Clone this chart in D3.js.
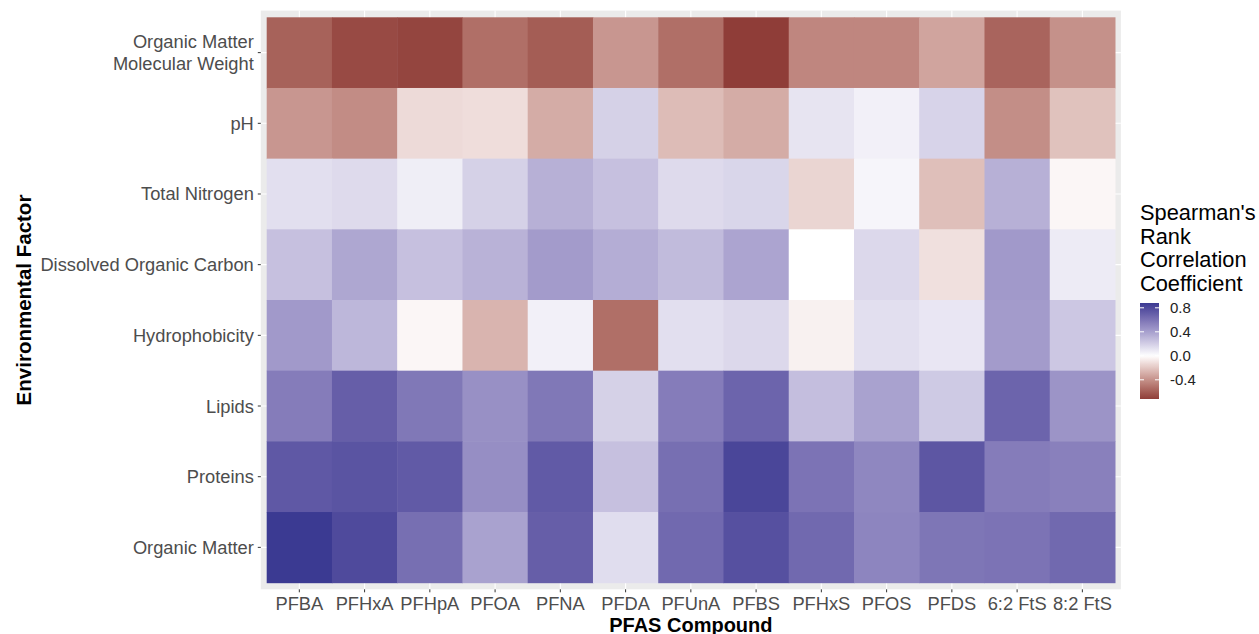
<!DOCTYPE html>
<html>
<head>
<meta charset="utf-8">
<script src="https://cdn.jsdelivr.net/npm/d3@7"></script>
<style>
  html, body { margin: 0; padding: 0; background: #ffffff; }
  svg { display: block; font-family: "Liberation Sans", Arial, sans-serif; }
</style>
</head>
<body>
<svg id="chart" width="1259" height="634"></svg>
<script>
// ---- Data ----
const compounds = ["PFBA", "PFHxA", "PFHpA", "PFOA", "PFNA", "PFDA", "PFUnA", "PFBS", "PFHxS", "PFOS", "PFDS", "6:2 FtS", "8:2 FtS"];
const factors = ["Organic Matter Molecular Weight", "pH", "Total Nitrogen", "Dissolved Organic Carbon", "Hydrophobicity", "Lipids", "Proteins", "Organic Matter"];
const omMolecularWeight = [-0.58, -0.67, -0.69, -0.53, -0.60, -0.38, -0.53, -0.72, -0.44, -0.44, -0.33, -0.57, -0.40];
const pH = [-0.38, -0.42, -0.13, -0.12, -0.30, 0.19, -0.24, -0.30, 0.11, 0.06, 0.18, -0.41, -0.22];
const totalNitrogen = [0.13, 0.15, 0.07, 0.19, 0.33, 0.26, 0.15, 0.17, -0.15, 0.04, -0.23, 0.33, -0.03];
const dissolvedOrganicCarbon = [0.26, 0.37, 0.26, 0.32, 0.42, 0.34, 0.28, 0.38, 0.00, 0.16, -0.11, 0.43, 0.08];
const hydrophobicity = [0.43, 0.30, -0.03, -0.27, 0.06, -0.53, 0.13, 0.16, -0.05, 0.13, 0.10, 0.42, 0.23];
const lipids = [0.56, 0.70, 0.58, 0.47, 0.58, 0.19, 0.56, 0.67, 0.27, 0.39, 0.22, 0.67, 0.45];
const proteins = [0.73, 0.75, 0.72, 0.48, 0.72, 0.26, 0.62, 0.82, 0.60, 0.51, 0.74, 0.56, 0.54];
const organicMatter = [0.88, 0.80, 0.62, 0.39, 0.70, 0.14, 0.65, 0.77, 0.65, 0.52, 0.59, 0.60, 0.65];
const legendTicks = [-0.4, 0.0, 0.4, 0.8];
const legendTitle = ["Spearman's", "Rank", "Correlation", "Coefficient"];

const rows = [omMolecularWeight, pH, totalNitrogen, dissolvedOrganicCarbon, hydrophobicity, lipids, proteins, organicMatter];
const cells = [];
factors.forEach((f, i) => compounds.forEach((c, j) => cells.push({ factor: f, compound: c, value: rows[i][j] })));

// ---- Layout ----
const svg = d3.select("#chart");
const tileLeft = 266.7, tileRight = 1115, tileTop = 17.3, tileBottom = 582.7;
const pad = 5.9;

const x = d3.scaleBand().domain(compounds).range([tileLeft, tileRight]).padding(0);
const y = d3.scaleBand().domain(factors).range([tileTop, tileBottom]).padding(0);

const vmin = d3.min(cells, d => d.value), vmax = d3.max(cells, d => d.value);
const color = d3.scaleLinear()
  .domain([vmin, 0, vmax])
  .range(["#8f3d38", "#ffffff", "#3b3a92"])
  .interpolate(d3.interpolateLab);

// Panel background
svg.append("rect")
  .attr("x", tileLeft - pad).attr("y", tileTop - pad - 0.8)
  .attr("width", tileRight - tileLeft + 2 * pad)
  .attr("height", tileBottom - tileTop + 2 * pad + 1.5)
  .attr("fill", "#ebebeb");

// Grid lines
const grid = svg.append("g").attr("stroke", "#ffffff").attr("stroke-width", 1.1);
compounds.forEach(c => {
  const cx = x(c) + x.bandwidth() / 2;
  grid.append("line").attr("x1", cx).attr("x2", cx).attr("y1", tileTop - pad - 0.8).attr("y2", tileBottom + pad + 0.7);
});
factors.forEach(f => {
  const cy = y(f) + y.bandwidth() / 2;
  grid.append("line").attr("y1", cy).attr("y2", cy).attr("x1", tileLeft - pad).attr("x2", tileRight + pad);
});

// Tiles
svg.append("g").selectAll("rect").data(cells).join("rect")
  .attr("x", d => x(d.compound))
  .attr("y", d => y(d.factor))
  .attr("width", x.bandwidth() + 0.5)
  .attr("height", y.bandwidth() + 0.5)
  .attr("fill", d => color(d.value));

// X axis
const xAxis = d3.axisBottom(x).tickSize(3).tickPadding(3.5);
const gx = svg.append("g").attr("transform", `translate(0,${tileBottom + pad + 0.7})`).call(xAxis);
gx.select(".domain").remove();
gx.selectAll(".tick line").attr("stroke", "#333333");
gx.selectAll(".tick text").attr("fill", "#4d4d4d").attr("font-size", 18.3)
  .attr("font-family", "Liberation Sans, Arial, sans-serif").attr("dy", "0.75em");

// Y axis
const yAxis = d3.axisLeft(y).tickSize(3).tickPadding(4);
const gy = svg.append("g").attr("transform", `translate(${tileLeft - pad},0)`).call(yAxis);
gy.select(".domain").remove();
gy.selectAll(".tick line").attr("stroke", "#333333");
gy.selectAll(".tick text").each(function(d) {
  const t = d3.select(this);
  t.text(null).attr("fill", "#4d4d4d").attr("font-size", 18.3)
    .attr("font-family", "Liberation Sans, Arial, sans-serif").attr("dy", null);
  const lines = d === "Organic Matter Molecular Weight" ? ["Organic Matter", "Molecular Weight"] : [d];
  const lh = 22;
  const start = -((lines.length - 1) * lh) / 2 + 6.5;
  lines.forEach((ln, k) => {
    t.append("tspan").attr("x", -7).attr("y", start + k * lh).text(ln);
  });
});

// Axis titles
svg.append("text")
  .attr("x", (tileLeft + tileRight) / 2).attr("y", 631.5)
  .attr("text-anchor", "middle").attr("font-weight", "bold").attr("font-size", 20)
  .attr("fill", "#000").text("PFAS Compound");
svg.append("text")
  .attr("transform", `translate(31,${(tileTop + tileBottom) / 2}) rotate(-90)`)
  .attr("text-anchor", "middle").attr("font-weight", "bold").attr("font-size", 20.5)
  .attr("fill", "#000").text("Environmental Factor");

// ---- Legend ----
const legX = 1140, legW = 19, legTop = 303, legBottom = 399;
const ly = d3.scaleLinear().domain([vmin, vmax]).range([legBottom, legTop]);
const defs = svg.append("defs");
const grad = defs.append("linearGradient").attr("id", "lg").attr("x1", 0).attr("y1", 1).attr("x2", 0).attr("y2", 0);
d3.range(0, 1.0001, 0.02).forEach(t => {
  const v = vmin + t * (vmax - vmin);
  grad.append("stop").attr("offset", t).attr("stop-color", color(v));
});
svg.append("rect").attr("x", legX).attr("y", legTop).attr("width", legW).attr("height", legBottom - legTop).attr("fill", "url(#lg)");
const lt = svg.append("g");
legendTicks.forEach(v => {
  const yy = ly(v);
  lt.append("line").attr("x1", legX).attr("x2", legX + 4).attr("y1", yy).attr("y2", yy).attr("stroke", "#fff").attr("stroke-width", 1);
  lt.append("line").attr("x1", legX + legW - 4).attr("x2", legX + legW).attr("y1", yy).attr("y2", yy).attr("stroke", "#fff").attr("stroke-width", 1);
  lt.append("text").attr("x", legX + 30).attr("y", yy + 5.3).attr("font-size", 15).attr("fill", "#222")
    .text(v.toFixed(1));
});
const title = svg.append("text").attr("font-size", 21.8).attr("fill", "#000");
legendTitle.forEach((s, i) => {
  title.append("tspan").attr("x", legX).attr("y", 220 + i * 23.7).text(s);
});
</script>
</body>
</html>
